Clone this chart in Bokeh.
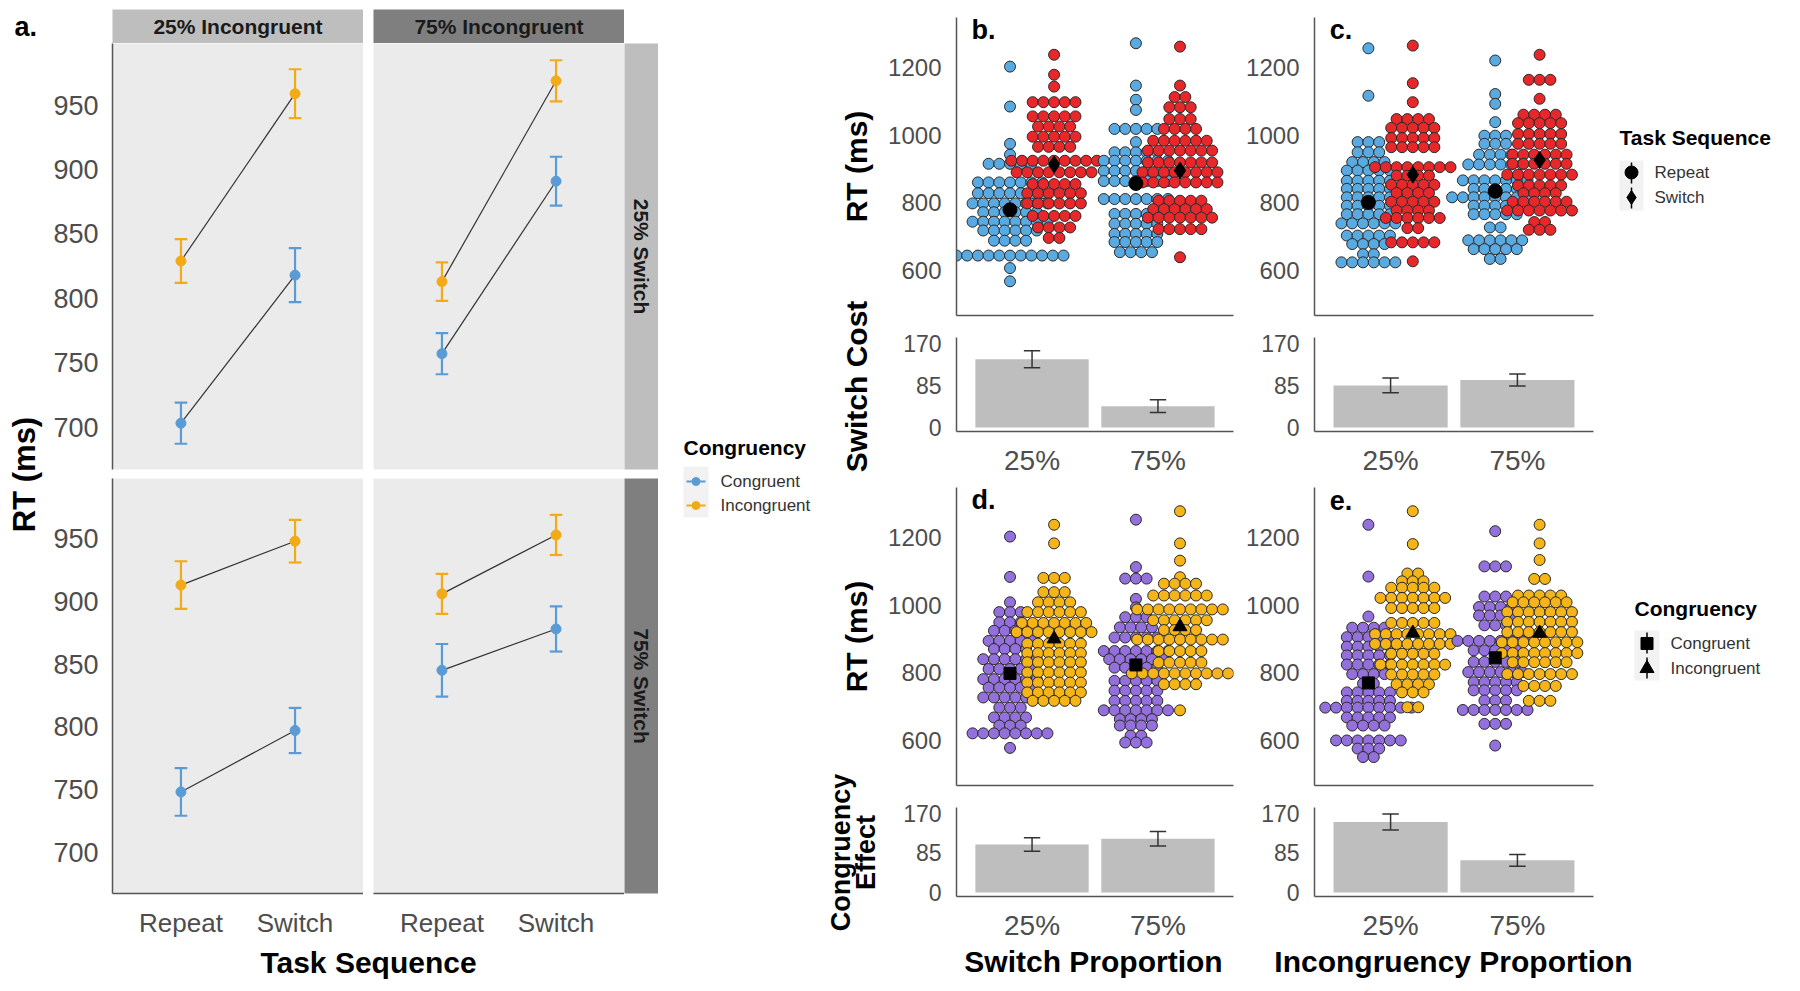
import math
from bokeh.plotting import figure
from bokeh.layouts import row, column
from bokeh.models import Range1d, FixedTicker, Spacer
from bokeh.core.properties import value
from bokeh.embed import file_html
from bokeh.resources import INLINE

# ---------------- data ----------------
seq_labels = ["Repeat", "Switch"]
prop_labels = ["25%", "75%"]
a_yticks = [700, 750, 800, 850, 900, 950]
rt_ticks = [600, 800, 1000, 1200]
bar_ticks = [0, 85, 170]

# panel a: mean RT [Repeat, Switch] and error half-widths
a_con_i25_s25 = [703, 818]; a_con_i25_s25_err = [16, 21]
a_inc_i25_s25 = [829, 959]; a_inc_i25_s25_err = [17, 19]
a_con_i75_s25 = [757, 891]; a_con_i75_s25_err = [16, 19]
a_inc_i75_s25 = [813, 969]; a_inc_i75_s25_err = [15, 16]
a_con_i25_s75 = [748, 797]; a_con_i25_s75_err = [19, 18]
a_inc_i25_s75 = [913, 948]; a_inc_i25_s75_err = [19, 17]
a_con_i75_s75 = [845, 878]; a_con_i75_s75_err = [21, 18]
a_inc_i75_s75 = [906, 953]; a_inc_i75_s75_err = [16, 16]

# beeswarm rows: (RT value, number of participants in that row)
b_rep25 = [(1202,1),(1084,1),(974,1),(942,1),(915,5),(860,7),(828,7),(798,8),(772,6),(744,8),(718,6),(688,4),(644,11),(607,1),(568,1)]
b_sw25 = [(1237,1),(1178,1),(1143,1),(1097,5),(1055,5),(1025,4),(995,5),(965,4),(924,9),(890,8),(855,5),(828,6),(798,6),(761,5),(727,4),(696,2)]
b_rep75 = [(1271,1),(1146,1),(1104,1),(1074,1),(1018,5),(979,1),(949,5),(924,7),(894,7),(864,7),(811,7),(767,5),(738,5),(708,5),(684,5),(654,4)]
b_sw75 = [(1261,1),(1146,1),(1112,2),(1082,3),(1047,3),(1018,4),(983,6),(954,7),(919,7),(890,8),(860,8),(806,5),(781,6),(756,7),(722,5),(639,1)]
c_rep25 = [(1256,1),(1116,1),(979,3),(949,3),(920,4),(895,5),(865,5),(841,5),(816,5),(791,5),(766,5),(739,6),(703,5),(678,4),(648,2),(624,6)]
c_sw25 = [(1264,1),(1153,1),(1097,1),(1047,4),(1021,5),(991,5),(964,5),(905,8),(880,4),(853,5),(829,4),(803,5),(777,4),(755,6),(725,2),(683,5),(627,1)]
c_rep75 = [(1220,1),(1121,1),(1092,1),(1038,1),(998,3),(974,3),(942,4),(913,6),(866,7),(841,5),(816,9),(791,5),(766,5),(727,2),(689,6),(663,5),(634,2)]
c_sw75 = [(1237,1),(1163,3),(1107,1),(1060,4),(1035,5),(1003,5),(974,5),(942,6),(915,6),(883,7),(851,5),(828,4),(803,6),(777,7),(743,2),(720,3)]
d_con25 = [(1202,1),(1083,1),(1008,1),(979,3),(949,3),(924,4),(894,5),(870,4),(840,6),(811,5),(781,6),(756,5),(727,6),(697,3),(668,4),(644,3),(621,8),(578,1)]
d_inc25 = [(1237,1),(1182,1),(1080,3),(1038,3),(1008,4),(979,6),(947,7),(920,8),(886,6),(858,6),(831,6),(801,6),(771,6),(742,6),(717,5)]
d_con75 = [(1252,1),(1112,1),(1078,3),(1018,1),(993,1),(964,3),(934,4),(904,5),(864,7),(840,6),(815,5),(776,5),(747,5),(717,5),(689,7),(663,4),(644,4),(614,2),(594,3)]
d_inc75 = [(1277,1),(1182,1),(1131,1),(1082,1),(1063,4),(1028,6),(987,9),(955,6),(926,4),(898,9),(864,5),(830,5),(798,10),(766,4),(689,1)]
e_con25 = [(1237,1),(1084,1),(966,1),(933,4),(905,5),(877,5),(851,5),(824,5),(796,4),(768,2),(742,5),(717,5),(697,9),(668,5),(644,4),(600,7),(576,3),(551,2)]
e_inc25 = [(1277,1),(1180,1),(1093,2),(1070,3),(1051,5),(1021,7),(991,5),(947,5),(914,8),(885,8),(856,5),(824,7),(795,5),(766,4),(742,3),(698,2)]
e_con75 = [(1218,1),(1114,3),(1025,3),(994,4),(969,4),(940,3),(894,8),(866,5),(832,5),(802,6),(772,5),(748,5),(718,3),(690,7),(649,3),(585,1)]
e_inc75 = [(1237,1),(1182,1),(1133,1),(1077,2),(1028,5),(1008,6),(979,7),(950,7),(920,7),(890,8),(858,8),(831,6),(796,7),(761,4),(717,3)]

# group means [25%, 75%]
b_mean_rep = [779, 857]; b_mean_sw = [913, 895]
c_mean_rep = [801, 834]; c_mean_sw = [883, 926]
d_mean_con = [798, 823]; d_mean_inc = [900, 936]
e_mean_con = [770, 844]; e_mean_inc = [917, 917]

# cost / effect bars [25%, 75%] with error half-widths
b_cost = [138, 43]; b_cost_err = [17, 13]
c_cost = [85, 96]; c_cost_err = [15, 12]
d_eff = [103, 115]; d_eff_err = [14.5, 15.5]
e_eff = [151, 69]; e_eff_err = [17, 12.5]

# ---------------- style ----------------
FONT = "Liberation Sans"
TICK_COL = "#4D4D4D"
AXIS_COL = "#555555"
A_BLUE = "#5A9BD5"; A_ORANGE = "#F2AA17"
S_BLUE = "#5AAAE2"; S_RED = "#E8272B"; S_PURPLE = "#9370DB"; S_ORANGE = "#F5B418"
PANEL_BG = "#EBEBEB"; STRIP_LIGHT = "#BEBEBE"; STRIP_DARK = "#7F7F7F"
DOT_STEP = 0.085
DODGE = 0.175
XPOS = [1, 2]


def fig(w, h, xr, yr, bl=0, br=0, bt=0, bb=0, xaxis=False, yaxis=False, bg="white"):
    p = figure(width=w, height=h, x_range=xr, y_range=yr, output_backend="svg",
               toolbar_location=None,
               x_axis_location="below" if xaxis else None,
               y_axis_location="left" if yaxis else None,
               min_border_left=bl, min_border_right=br, min_border_top=bt, min_border_bottom=bb,
               background_fill_color=bg, border_fill_color="white", outline_line_color=None)
    p.xgrid.visible = False
    p.ygrid.visible = False
    return p


def style_axis(ax, size, standoff=8, ticks=None, overrides=None):
    ax.major_label_text_font = FONT
    ax.major_label_text_font_size = f"{size}px"
    ax.major_label_text_color = TICK_COL
    ax.major_tick_line_color = None
    ax.minor_tick_line_color = None
    ax.axis_line_color = AXIS_COL
    ax.axis_line_width = 1.5
    ax.major_label_standoff = standoff
    if ticks is not None:
        ax.ticker = FixedTicker(ticks=ticks)
    if overrides is not None:
        ax.major_label_overrides = overrides


def txt(p, x, y, s, size, bold=False, color="#000000", angle=0.0, align="center", baseline="middle"):
    p.text(x=[x], y=[y], text=[s], text_font=value(FONT), text_font_size=value(f"{size}px"),
           text_font_style="bold" if bold else "normal", text_color=color, angle=angle,
           text_align=align, text_baseline=baseline)


def overlay(x0, y0, w, h):
    # figure whose data coordinates are the reference's pixel positions (y negated)
    return fig(w, h, Range1d(x0, x0 + w), Range1d(-(y0 + h), -y0))


# ---------------- panel a ----------------
def a_panel(w, h, bl, bb, con, con_err, inc, inc_err, yaxis, xaxis):
    p = fig(w, h, Range1d(0.4, 2.6), Range1d(667, 998), bl=bl, bb=bb,
            xaxis=xaxis, yaxis=yaxis, bg=PANEL_BG)
    for vals, err, col in ((con, con_err, A_BLUE), (inc, inc_err, A_ORANGE)):
        lo = [v - e for v, e in zip(vals, err)]
        hi = [v + e for v, e in zip(vals, err)]
        p.line(XPOS, vals, line_color="#333333", line_width=1.2)
        p.segment(XPOS, lo, XPOS, hi, line_color=col, line_width=2.2)
        p.segment([x - 0.055 for x in XPOS], hi, [x + 0.055 for x in XPOS], hi, line_color=col, line_width=2.2)
        p.segment([x - 0.055 for x in XPOS], lo, [x + 0.055 for x in XPOS], lo, line_color=col, line_width=2.2)
        p.scatter(XPOS, vals, size=10, fill_color=col, line_color=col)
    if yaxis:
        style_axis(p.yaxis[0], 27, standoff=8, ticks=a_yticks)
    if xaxis:
        style_axis(p.xaxis[0], 26, standoff=8, ticks=XPOS,
                   overrides={1: seq_labels[0], 2: seq_labels[1]})
    return p


a_tl = a_panel(319, 435, 68, 9, a_con_i25_s25, a_con_i25_s25_err, a_inc_i25_s25, a_inc_i25_s25_err, True, False)
a_tr = a_panel(261, 435, 10, 9, a_con_i75_s25, a_con_i75_s25_err, a_inc_i75_s25, a_inc_i75_s25_err, False, False)
a_bl = a_panel(319, 462, 68, 36, a_con_i25_s75, a_con_i25_s75_err, a_inc_i25_s75, a_inc_i25_s75_err, True, True)
a_br = a_panel(261, 462, 10, 36, a_con_i75_s75, a_con_i75_s75_err, a_inc_i75_s75, a_inc_i75_s75_err, False, True)


def strip(w, h, bt, bb, bg, label, angle):
    p = fig(w, h, Range1d(0, 1), Range1d(0, 1), bt=bt, bb=bb, bg=bg)
    txt(p, 0.5, 0.5, label, 21, bold=True, color="#1A1A1A", angle=angle)
    return p


s_top1 = strip(251, 35, 1, 0, STRIP_LIGHT, "25% Incongruent", 0.0)
s_top2 = strip(251, 35, 1, 0, STRIP_DARK, "75% Incongruent", 0.0)
s_r1 = strip(34, 435, 0, 9, STRIP_LIGHT, "25% Switch", -math.pi / 2)
s_r2 = strip(34, 462, 0, 36, STRIP_DARK, "75% Switch", -math.pi / 2)

ylab_a = overlay(8, 8, 36, 973)
txt(ylab_a, 24, -474, "RT (ms)", 31, bold=True, angle=math.pi / 2)
txt(ylab_a, 14, -26, "a.", 27, bold=True, align="left")

xt_a = overlay(44, 940, 614, 41)
txt(xt_a, 368, -962, "Task Sequence", 30, bold=True)

leg_a = overlay(658, 8, 160, 973)
txt(leg_a, 683, -447, "Congruency", 21, bold=True, align="left")
leg_a.quad(left=[683], right=[708], top=[-466], bottom=[-517], fill_color="#F2F2F2", line_color=None)
for yy, col, lab in ((481, A_BLUE, "Congruent"), (505, A_ORANGE, "Incongruent")):
    leg_a.segment([686], [-yy], [705], [-yy], line_color=col, line_width=2)
    leg_a.scatter([695.5], [-yy], size=8, fill_color=col, line_color=col)
    txt(leg_a, 720, -yy, lab, 17, color="#333333", align="left")

left_block = column(
    row(Spacer(width=68, height=35), s_top1, Spacer(width=10, height=35), s_top2, Spacer(width=34, height=35)),
    row(a_tl, a_tr, s_r1),
    row(a_bl, a_br, s_r2),
    xt_a,
)


# ---------------- panels b-e ----------------
def swarm_fig(w, frame_w, groups, means, tag):
    p = fig(w, 319, Range1d(0.4, 2.6), Range1d(467, 1347), bl=74, br=w - 74 - frame_w,
            bt=9, bb=12, xaxis=True, yaxis=True)
    for rows, center, color in groups:
        xs, ys = [], []
        for yv, n in rows:
            for i in range(n):
                xs.append(center + (i - (n - 1) / 2) * DOT_STEP)
                ys.append(yv)
        p.scatter(xs, ys, size=11, fill_color=color, line_color="#2A2A2A", line_width=1)
    for vals, marker, size in means:
        off = -DODGE if marker in ("circle", "square") else DODGE
        p.scatter([x + off for x in XPOS], vals, marker=marker, size=size,
                  fill_color="black", line_color="black")
    style_axis(p.yaxis[0], 24, standoff=9, ticks=rt_ticks)
    style_axis(p.xaxis[0], 1, standoff=0, ticks=[])
    txt(p, 0.52, 1309, tag, 27, bold=True, align="left")
    return p


def bar_fig(w, frame_w, h, bb, vals, errs):
    p = fig(w, h, Range1d(0.4, 2.6), Range1d(-8.3, 182), bl=74, br=w - 74 - frame_w,
            bt=10, bb=bb, xaxis=True, yaxis=True)
    p.vbar(x=XPOS, top=vals, bottom=0, width=0.9, fill_color="#BEBEBE", line_color=None)
    lo = [v - e for v, e in zip(vals, errs)]
    hi = [v + e for v, e in zip(vals, errs)]
    p.segment(XPOS, lo, XPOS, hi, line_color="#333333", line_width=1.5)
    p.segment([x - 0.065 for x in XPOS], hi, [x + 0.065 for x in XPOS], hi, line_color="#333333", line_width=1.5)
    p.segment([x - 0.065 for x in XPOS], lo, [x + 0.065 for x in XPOS], lo, line_color="#333333", line_width=1.5)
    style_axis(p.yaxis[0], 23, standoff=9, ticks=bar_ticks)
    style_axis(p.xaxis[0], 28, standoff=7, ticks=XPOS,
               overrides={1: prop_labels[0], 2: prop_labels[1]})
    return p


b_sw = swarm_fig(358, 277, [(b_rep25, 1 - DODGE, S_BLUE), (b_sw25, 1 + DODGE, S_RED),
                            (b_rep75, 2 - DODGE, S_BLUE), (b_sw75, 2 + DODGE, S_RED)],
                 [(b_mean_rep, "circle", 14), (b_mean_sw, "diamond", 17)], "b.")
c_sw = swarm_fig(360, 279, [(c_rep25, 1 - DODGE, S_BLUE), (c_sw25, 1 + DODGE, S_RED),
                            (c_rep75, 2 - DODGE, S_BLUE), (c_sw75, 2 + DODGE, S_RED)],
                 [(c_mean_rep, "circle", 14), (c_mean_sw, "diamond", 17)], "c.")
d_sw = swarm_fig(358, 277, [(d_con25, 1 - DODGE, S_PURPLE), (d_inc25, 1 + DODGE, S_ORANGE),
                            (d_con75, 2 - DODGE, S_PURPLE), (d_inc75, 2 + DODGE, S_ORANGE)],
                 [(d_mean_con, "square", 12), (d_mean_inc, "triangle", 14)], "d.")
e_sw = swarm_fig(360, 279, [(e_con25, 1 - DODGE, S_PURPLE), (e_inc25, 1 + DODGE, S_ORANGE),
                            (e_con75, 2 - DODGE, S_PURPLE), (e_inc75, 2 + DODGE, S_ORANGE)],
                 [(e_mean_con, "square", 12), (e_mean_inc, "triangle", 14)], "e.")

b_bar = bar_fig(358, 277, 151, 42, b_cost, b_cost_err)
c_bar = bar_fig(360, 279, 151, 42, c_cost, c_cost_err)
d_bar = bar_fig(358, 277, 146, 37, d_eff, d_eff_err)
e_bar = bar_fig(360, 279, 146, 37, e_eff, e_eff_err)

ylab_r = overlay(818, 8, 64, 935)
txt(ylab_r, 856, -166, "RT (ms)", 30, bold=True, angle=math.pi / 2)
txt(ylab_r, 856, -386, "Switch Cost", 30, bold=True, angle=math.pi / 2)
txt(ylab_r, 856, -636, "RT (ms)", 30, bold=True, angle=math.pi / 2)
txt(ylab_r, 840, -852, "Congruency", 27, bold=True, angle=math.pi / 2)
txt(ylab_r, 865, -852, "Effect", 27, bold=True, angle=math.pi / 2)

leg_r = overlay(1600, 8, 184, 935)
txt(leg_r, 1619, -137, "Task Sequence", 21, bold=True, align="left")
leg_r.quad(left=[1619], right=[1643], top=[-160], bottom=[-210], fill_color="#F2F2F2", line_color=None)
leg_r.segment([1631, 1631], [-162, -187], [1631, 1631], [-183, -208], line_color="black", line_width=1.5)
leg_r.scatter([1631], [-172], marker="circle", size=13, fill_color="black", line_color="black")
leg_r.scatter([1631], [-197], marker="diamond", size=14, fill_color="black", line_color="black")
txt(leg_r, 1654, -172, "Repeat", 17, color="#333333", align="left")
txt(leg_r, 1654, -197, "Switch", 17, color="#333333", align="left")

txt(leg_r, 1634, -608, "Congruency", 21, bold=True, align="left")
leg_r.quad(left=[1634], right=[1659], top=[-630], bottom=[-680], fill_color="#F2F2F2", line_color=None)
leg_r.segment([1646.5, 1646.5], [-632, -657], [1646.5, 1646.5], [-653, -678], line_color="black", line_width=1.5)
leg_r.scatter([1646.5], [-643], marker="square", size=12, fill_color="black", line_color="black")
leg_r.scatter([1646.5], [-668], marker="triangle", size=14, fill_color="black", line_color="black")
txt(leg_r, 1670, -643, "Congruent", 17, color="#333333", align="left")
txt(leg_r, 1670, -668, "Incongruent", 17, color="#333333", align="left")

xt_r = overlay(818, 943, 966, 38)
txt(xt_r, 1093, -961, "Switch Proportion", 30, bold=True)
txt(xt_r, 1453, -961, "Incongruency Proportion", 30, bold=True)

right_block = column(
    row(ylab_r, column(b_sw, b_bar, d_sw, d_bar), column(c_sw, c_bar, e_sw, e_bar), leg_r),
    xt_r,
)

root = column(
    Spacer(width=1792, height=8),
    row(Spacer(width=8, height=973), ylab_a, left_block, leg_a, right_block),
)

open("out.html", "w").write(file_html(root, INLINE))
